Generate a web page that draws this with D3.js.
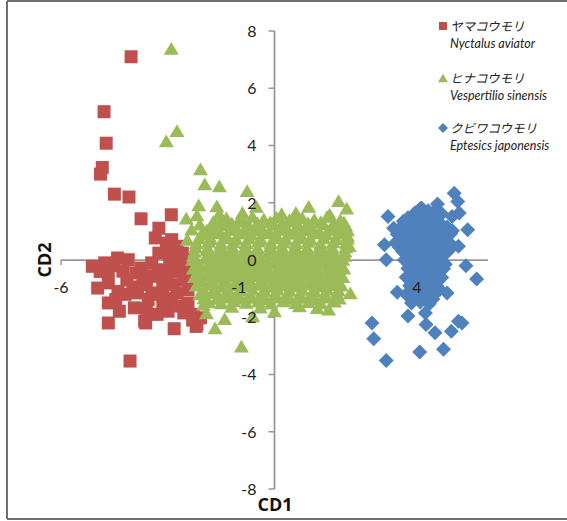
<!DOCTYPE html>
<html><head><meta charset="utf-8">
<script src="https://cdn.jsdelivr.net/npm/d3@7"></script>
<style>body{margin:0;background:#fff}svg{display:block}</style>
</head><body><svg id="c" width="567" height="521"></svg>
<script>
// ---- data ----
const speciesJa = ["ヤマコウモリ", "ヒナコウモリ", "クビワコウモリ"];
const speciesLatin = ["Nyctalus aviator", "Vespertilio sinensis", "Eptesics japonensis"];
const xTicks = [-6, -1, 4];
const yTicks = [-8, -6, -4, -2, 0, 2, 4, 6, 8];
const xTitle = "CD1";
const yTitle = "CD2";

const nyctalus = [
  [-4.03,7.10],[-4.79,5.18],[-4.73,4.08],[-4.84,3.23],[-4.89,3.00],[-4.50,2.30],[-4.09,2.20],
  [-3.75,1.44],[-2.90,1.58],[-3.25,1.11],[-3.35,0.77],[-2.89,0.71],[-4.06,-3.53],
  [-5.12,-0.22],[-4.77,-0.10],[-4.41,0.07],[-4.11,0.01],[-4.67,-0.39],[-4.26,-0.39],[-3.75,-0.28],
  [-3.45,-0.10],[-3.25,-0.34],[-2.94,-0.22],[-2.64,-0.10],[-3.25,0.24],[-2.94,0.13],[-2.74,0.48],
  [-2.59,0.24],[-3.04,0.59],[-4.97,-0.98],[-4.67,-0.80],[-3.98,-0.94],[-3.60,-0.86],[-3.45,-1.15],
  [-3.14,-0.92],[-2.84,-0.86],[-2.54,-0.69],[-2.74,-1.15],[-2.43,-1.03],[-4.67,-1.50],[-4.36,-1.79],
  [-4.46,-1.38],[-3.94,-1.67],[-3.55,-1.38],[-3.14,-1.56],[-2.99,-1.79],[-2.43,-1.50],[-2.64,-1.61],
  [-4.67,-2.20],[-3.65,-2.14],[-2.82,-2.40],[-2.18,-2.25],[-2.08,-2.02],[-2.28,-1.90],[-3.35,-0.57],
  [-3.70,-0.69],[-3.04,-0.63],[-2.38,-0.45],[-2.33,0.01],[-3.62,-2.20],[-2.20,-2.32],
  [-3.90,-0.45],[-3.55,-0.55],[-3.20,-1.20],[-2.90,-1.35],[-3.85,-1.15],[-4.15,-0.70],[-4.40,-1.10],
  [-4.20,-1.20],[-3.00,0.30],[-2.70,-0.40],[-2.50,-0.20],[-4.90,-0.40],[-4.50,-0.20],[-3.60,-1.70],
  [-3.30,-1.90],[-2.55,-1.85],[-2.30,-2.10]
];

const vespertilio = [
  [-2.90,7.39],[-2.74,4.52],[-3.04,4.16],[-2.08,3.18],[-1.96,2.66],[-1.55,2.59],[-0.77,2.42],
  [-2.13,1.93],[-1.62,1.89],[-2.18,1.58],[-2.48,1.46],[-2.33,1.08],[-2.03,0.95],[-1.72,1.35],
  [1.80,2.07],[2.03,1.81],[0.96,1.87],[-0.51,1.87],[2.13,-1.15],[-0.93,-3.01],[-1.67,-2.37],
  [-1.91,-1.85],[-1.40,-2.05],[-0.61,-1.95],[0.00,-1.78],[1.52,-1.72],[1.67,-1.42],[1.72,-1.20],
  [2.05,1.05],[2.10,0.50],[-2.45,0.72],[-2.10,1.25],
  [-1.35,1.47],[-1.00,1.40],[-0.62,1.52],[-0.30,1.44],[0.05,1.50],[0.42,1.41],[0.78,1.48],[1.12,1.43],[1.48,1.52],[1.85,1.40],
  [-1.55,1.33],[-1.20,1.30],[-0.85,1.35],[-0.48,1.31],[-0.12,1.34],[0.22,1.30],[0.58,1.36],[0.94,1.31],[1.30,1.34],[1.66,1.30],[1.95,1.33],
  [-1.75,1.18],[-1.42,1.24],[-1.08,1.15],[-0.72,1.22],[-0.38,1.17],[-0.02,1.25],[0.33,1.16],[0.68,1.21],[1.02,1.19],[1.38,1.26],[1.72,1.15],[2.00,1.22],
  [-1.90,1.05],[-1.55,1.03],[-1.22,1.07],[-0.85,1.04],[-0.50,1.06],[-0.15,1.02],[0.20,1.07],[0.55,1.03],[0.90,1.06],[1.25,1.02],[1.62,1.07],[1.95,1.04],
  [-2.05,0.90],[-1.70,0.95],[-1.35,0.88],[-1.00,0.94],[-0.65,0.90],[-0.30,0.96],[0.05,0.89],[0.40,0.93],[0.75,0.88],[1.10,0.95],[1.45,0.91],[1.80,0.94],[2.05,0.86],
  [-2.12,0.76],[-1.78,0.74],[-1.42,0.78],[-1.08,0.75],[-0.72,0.77],[-0.38,0.73],[-0.02,0.78],[0.32,0.74],[0.68,0.77],[1.02,0.73],[1.38,0.78],[1.72,0.75],[2.05,0.76],
  [-2.20,0.60],[-1.85,0.65],[-1.50,0.58],[-1.15,0.64],[-0.80,0.61],[-0.45,0.66],[-0.10,0.59],[0.25,0.63],[0.60,0.60],[0.95,0.65],[1.30,0.58],[1.65,0.63],[2.02,0.62],
  [-2.22,0.46],[-1.88,0.44],[-1.52,0.48],[-1.18,0.45],[-0.82,0.47],[-0.48,0.43],[-0.12,0.48],[0.22,0.44],[0.58,0.47],[0.92,0.43],[1.28,0.48],[1.62,0.45],[2.00,0.46],
  [-2.25,0.30],[-1.90,0.35],[-1.55,0.29],[-1.20,0.34],[-0.85,0.31],[-0.50,0.36],[-0.15,0.28],[0.20,0.33],[0.55,0.30],[0.90,0.35],[1.25,0.29],[1.60,0.34],[1.98,0.31],
  [-2.28,0.16],[-1.78,0.14],[-1.42,0.18],[-1.08,0.15],[-0.72,0.17],[-0.38,0.13],[-0.02,0.18],[0.32,0.14],[0.68,0.17],[1.02,0.13],[1.38,0.18],[1.72,0.15],[1.98,0.16],
  [-2.30,0.02],[-1.95,0.06],[-1.60,-0.01],[-1.25,0.04],[-0.90,0.01],[-0.55,0.05],[-0.20,-0.02],[0.15,0.03],[0.50,0.00],[0.85,0.05],[1.20,-0.01],[1.55,0.04],[1.92,0.02],
  [-2.12,-0.14],[-1.78,-0.16],[-1.42,-0.12],[-1.05,-0.15],[-0.70,-0.13],[-0.35,-0.17],[0.00,-0.12],[0.35,-0.16],[0.70,-0.13],[1.05,-0.17],[1.40,-0.12],[1.75,-0.15],
  [-2.28,-0.28],[-1.92,-0.24],[-1.58,-0.31],[-1.22,-0.26],[-0.88,-0.29],[-0.52,-0.25],[-0.18,-0.32],[0.18,-0.27],[0.52,-0.30],[0.88,-0.24],[1.22,-0.31],[1.58,-0.26],[1.95,-0.28],
  [-2.10,-0.44],[-1.75,-0.46],[-1.40,-0.42],[-1.05,-0.45],[-0.70,-0.43],[-0.35,-0.47],[0.02,-0.42],[0.38,-0.46],[0.72,-0.43],[1.08,-0.47],[1.42,-0.42],[1.78,-0.45],
  [-2.25,-0.58],[-1.90,-0.54],[-1.55,-0.61],[-1.20,-0.56],[-0.85,-0.59],[-0.50,-0.55],[-0.15,-0.62],[0.20,-0.57],[0.55,-0.60],[0.90,-0.54],[1.25,-0.61],[1.60,-0.56],[1.92,-0.58],
  [-2.05,-0.74],[-1.72,-0.76],[-1.38,-0.72],[-1.02,-0.75],[-0.68,-0.73],[-0.32,-0.77],[0.05,-0.72],[0.40,-0.76],[0.75,-0.73],[1.10,-0.77],[1.45,-0.72],[1.80,-0.75],
  [-2.20,-0.88],[-1.85,-0.84],[-1.50,-0.91],[-1.15,-0.86],[-0.80,-0.89],[-0.45,-0.85],[-0.10,-0.92],[0.25,-0.87],[0.60,-0.90],[0.95,-0.84],[1.30,-0.91],[1.65,-0.86],[1.88,-0.88],
  [-1.98,-1.04],[-1.65,-1.06],[-1.30,-1.02],[-0.95,-1.05],[-0.62,-1.03],[-0.28,-1.07],[0.08,-1.02],[0.42,-1.06],[0.78,-1.03],[1.12,-1.07],[1.48,-1.02],[1.80,-1.05],
  [-2.10,-1.18],[-1.75,-1.14],[-1.40,-1.21],[-1.05,-1.16],[-0.70,-1.19],[-0.35,-1.15],[0.00,-1.22],[0.35,-1.17],[0.70,-1.20],[1.05,-1.14],[1.40,-1.21],[1.75,-1.16],
  [-1.98,-1.32],[-1.62,-1.34],[-1.28,-1.30],[-0.95,-1.33],[-0.62,-1.31],[-0.28,-1.35],[0.08,-1.30],[0.42,-1.34],[0.78,-1.31],[1.12,-1.35],[1.48,-1.30],[1.82,-1.33],
  [-1.85,-1.45],[-1.50,-1.50],[-1.15,-1.42],[-0.80,-1.48],[-0.45,-1.44],[-0.10,-1.51],[0.25,-1.43],[0.60,-1.49],[0.95,-1.45],[1.30,-1.50],[1.68,-1.44],
  [-1.20,-1.62],[-0.40,-1.65],[0.70,-1.60],[1.20,-1.66],[-2.00,-1.55],[-1.55,1.62],[0.20,1.62],[1.55,1.60],[-0.90,1.66],[0.60,1.66]
];

const eptesicus = [
  [5.05,2.33],[5.15,2.04],[4.58,1.96],[4.99,1.52],[5.19,1.64],[4.14,1.81],[3.19,1.52],[3.35,1.11],
  [5.43,1.06],[3.09,0.53],[5.17,0.48],[3.14,0.01],[5.38,-0.20],[5.68,-0.66],[3.45,-1.13],[4.85,-1.15],
  [3.75,-1.96],[4.24,-1.85],[4.26,-2.25],[4.51,-2.54],[4.97,-2.49],[5.17,-2.14],[5.27,-2.20],
  [2.74,-2.20],[2.79,-2.75],[3.14,-3.51],[4.08,-3.21],[4.75,-3.12],
  [4.10,1.80],[4.32,1.72],
  [3.95,1.65],[4.45,1.65],[4.70,1.62],
  [3.75,1.48],[4.00,1.55],[4.25,1.50],[4.45,1.45],
  [3.62,1.35],[3.88,1.35],[4.12,1.33],[4.38,1.36],[4.62,1.34],
  [3.60,1.20],[3.85,1.22],[4.10,1.18],[4.35,1.25],[4.60,1.20],[4.85,1.15],
  [3.50,1.05],[3.75,1.05],[4.00,1.03],[4.25,1.06],[4.50,1.04],[4.75,1.05],[5.00,1.02],
  [3.45,0.90],[3.70,0.92],[3.95,0.88],[4.20,0.94],[4.45,0.90],[4.70,0.86],[4.95,0.92],
  [3.55,0.75],[3.80,0.76],[4.05,0.74],[4.30,0.77],[4.55,0.75],[4.80,0.73],
  [3.40,0.60],[3.65,0.62],[3.90,0.58],[4.15,0.64],[4.40,0.60],[4.65,0.57],[4.90,0.62],
  [3.50,0.45],[3.75,0.46],[4.00,0.44],[4.25,0.47],[4.50,0.45],[4.75,0.43],[5.00,0.46],
  [3.60,0.30],[3.85,0.33],[4.10,0.28],[4.35,0.32],[4.60,0.30],[4.85,0.27],
  [3.72,0.15],[3.98,0.16],[4.22,0.14],[4.48,0.17],[4.72,0.15],
  [3.65,0.00],[3.90,0.04],[4.15,-0.02],[4.40,0.02],[4.65,0.00],
  [3.80,-0.15],[4.05,-0.14],[4.30,-0.16],[4.55,-0.13],[4.80,-0.15],
  [3.75,-0.30],[4.00,-0.27],[4.25,-0.33],[4.50,-0.29],[4.75,-0.31],
  [3.85,-0.45],[4.10,-0.44],[4.35,-0.46],[4.60,-0.43],
  [3.70,-0.60],[3.95,-0.57],[4.20,-0.63],[4.45,-0.59],[4.70,-0.61],
  [3.85,-0.75],[4.10,-0.74],[4.35,-0.76],[4.60,-0.73],
  [3.80,-0.90],[4.05,-0.87],[4.30,-0.93],[4.55,-0.89],
  [3.90,-1.05],[4.15,-1.04],[4.40,-1.06],[4.65,-1.03],
  [3.70,-1.20],[3.95,-1.17],[4.20,-1.23],[4.50,-1.19],
  [3.95,-1.35],[4.20,-1.34],[4.45,-1.36],
  [3.85,-1.50],[4.10,-1.47],[4.35,-1.53]
];

const seriesData = [nyctalus, vespertilio, eptesicus];
const seriesColors = ["#C0504D", "#9BBB59", "#4F81BD"];

// ---- symbols ----
const symSquare = { draw(ctx, size) { const h = Math.sqrt(size) / 2; ctx.rect(-h, -h, 2 * h, 2 * h); } };
const symTriangle = { draw(ctx, size) { const w = Math.sqrt(size), h = w * 0.85;
  ctx.moveTo(0, -h / 2); ctx.lineTo(w / 2, h / 2); ctx.lineTo(-w / 2, h / 2); ctx.closePath(); } };
const symDiamond = { draw(ctx, size) { const r = Math.sqrt(size) / 2;
  ctx.moveTo(0, -r); ctx.lineTo(r, 0); ctx.lineTo(0, r); ctx.lineTo(-r, 0); ctx.closePath(); } };
const symbolTypes = [symSquare, symTriangle, symDiamond];
const markerSizes = [13 * 13, 15 * 15, 15 * 15];
const legendSizes = [8 * 8, 10 * 10, 10 * 10];

// ---- layout ----
const svg = d3.select("#c");
svg.append("rect").attr("width", 567).attr("height", 521).attr("fill", "#fff");

const x = d3.scaleLinear().domain([-6, 6]).range([61, 488]);
const y = d3.scaleLinear().domain([-8, 8]).range([489, 31]);

// frame
svg.append("path").attr("d", "M7,1 L567,1 M7,1 L7,519 M7,519 L567,519")
  .attr("stroke", "#6f6f6f").attr("stroke-width", 2).attr("fill", "none");

const axisColor = "#979797";
const gx = svg.append("g");
gx.append("line").attr("x1", x(-6)).attr("x2", x(6)).attr("y1", y(0)).attr("y2", y(0))
  .attr("stroke", axisColor).attr("stroke-width", 1.75);
gx.selectAll("line.t").data(xTicks).join("line").attr("class", "t")
  .attr("x1", d => x(d)).attr("x2", d => x(d)).attr("y1", y(0)).attr("y2", y(0) + 5)
  .attr("stroke", axisColor).attr("stroke-width", 1.5);
const gy = svg.append("g");
gy.append("line").attr("x1", x(0)).attr("x2", x(0)).attr("y1", y(8)).attr("y2", y(-8))
  .attr("stroke", axisColor).attr("stroke-width", 1.75);
gy.selectAll("line.t").data(yTicks).join("line").attr("class", "t")
  .attr("x1", x(0) - 6).attr("x2", x(0)).attr("y1", d => y(d)).attr("y2", d => y(d))
  .attr("stroke", axisColor).attr("stroke-width", 1.5);

// points
seriesData.forEach((data, i) => {
  const sym = d3.symbol().type(symbolTypes[i]).size(markerSizes[i]);
  svg.append("g").selectAll("path").data(data).join("path")
    .attr("d", sym)
    .attr("transform", d => `translate(${x(d[0])},${y(d[1])})`)
    .attr("fill", seriesColors[i]);
});

// tick labels (on top)
const labelFont = "Lato, 'Liberation Sans', sans-serif";
svg.append("g").selectAll("text").data(yTicks).join("text")
  .attr("x", x(0) - 18).attr("y", d => y(d)).attr("dy", "0.36em")
  .attr("text-anchor", "end").attr("font-family", labelFont).attr("font-size", 16)
  .attr("fill", "#222").text(d => d);
svg.append("g").selectAll("text").data(xTicks).join("text")
  .attr("x", d => x(d)).attr("y", y(0) + 27).attr("dy", "0.36em")
  .attr("text-anchor", "middle").attr("font-family", labelFont).attr("font-size", 16)
  .attr("fill", "#222").text(d => d);

// axis titles
svg.append("text").attr("x", 275).attr("y", 505).attr("dy", "0.36em")
  .attr("text-anchor", "middle").attr("font-family", "'Open Sans', 'Liberation Sans', sans-serif")
  .attr("font-weight", "bold").attr("font-size", 18).attr("fill", "#111").text(xTitle);
svg.append("text").attr("transform", "translate(45,260) rotate(-90)").attr("dy", "0.36em")
  .attr("text-anchor", "middle").attr("font-family", "'Open Sans', 'Liberation Sans', sans-serif")
  .attr("font-weight", "bold").attr("font-size", 18).attr("fill", "#111").text(yTitle);

// legend
const legendY = [26, 78, 128];
const lg = svg.append("g");
speciesJa.forEach((name, i) => {
  const sym = d3.symbol().type(symbolTypes[i]).size(legendSizes[i]);
  lg.append("path").attr("d", sym).attr("transform", `translate(443,${legendY[i]})`)
    .attr("fill", seriesColors[i]);
  lg.append("text").attr("x", 450).attr("y", legendY[i]).attr("dy", "0.36em")
    .attr("font-family", "'Noto Sans CJK JP', sans-serif").attr("font-style", "italic")
    .attr("font-size", 12.5).attr("fill", "#222").text(name);
  lg.append("text").attr("x", 450).attr("y", legendY[i] + 17).attr("dy", "0.36em")
    .attr("font-family", "Lato, 'Liberation Sans', sans-serif").attr("font-style", "italic")
    .attr("font-size", 12.5).attr("fill", "#222").text(speciesLatin[i]);
});
</script></body></html>
